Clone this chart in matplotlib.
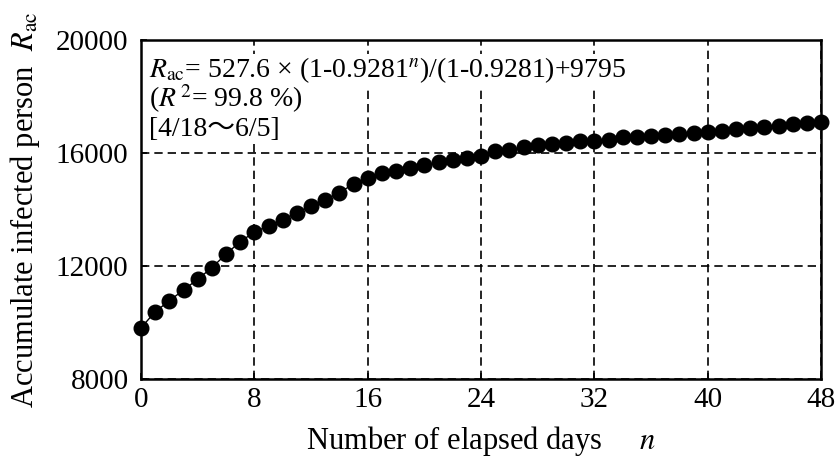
import numpy as np
import matplotlib
matplotlib.use("Agg")
import matplotlib.pyplot as plt

plt.rcParams['font.family'] = ['Liberation Serif', 'Noto Sans CJK JP', 'DejaVu Sans']
plt.rcParams['mathtext.fontset'] = 'stix'

# elapsed days and accumulated infected persons
days = np.arange(0, 49)
infected = [9810, 10380, 10770, 11150, 11530, 11940, 12420, 12860, 13200, 13420,
            13630, 13890, 14120, 14340, 14600, 14900, 15100, 15280, 15380, 15480,
            15580, 15670, 15750, 15810, 15890, 16070, 16110, 16220, 16270, 16320,
            16340, 16410, 16440, 16460, 16560, 16580, 16600, 16630, 16660, 16700,
            16730, 16780, 16840, 16870, 16930, 16970, 17020, 17050, 17090]

xticks = [0, 8, 16, 24, 32, 40, 48]
yticks = [8000, 12000, 16000, 20000]

fig = plt.figure(figsize=(8.35, 4.7), dpi=100)
ax = fig.add_axes([141/835, 1-379/470, 680/835, 339/470])

ax.plot(days, infected, color='black', lw=1.0, marker='o', ms=10.5,
        markerfacecolor='black', markeredgecolor='black', clip_on=False, zorder=3)

ax.set_xlim(0, 48)
ax.set_ylim(8000, 20000)
ax.set_xticks(xticks)
ax.set_yticks(yticks)
ax.tick_params(direction='in', length=4, width=1.2, labelsize=21, top=False, right=False)
ax.tick_params(axis='x', pad=6)
ax.tick_params(axis='y', pad=9)
for s in ax.spines.values():
    s.set_linewidth(1.8)

ax.grid(True, color='black', linestyle=(0, (5, 3)), linewidth=1.2)
ax.set_axisbelow(True)

ax.set_xlabel('Number of elapsed days     $n$', fontsize=22, labelpad=8)
ax.set_ylabel(r'Accumulate infected person  $R_{\rm ac}$', fontsize=22)
ax.yaxis.set_label_coords(-0.146, 0.5)

box = dict(facecolor='white', edgecolor='none', pad=0.5)
ax.text(0.012, 0.891, r'$R_{\rm ac}$= 527.6 × (1-0.9281$^{n}$)/(1-0.9281)+9795',
        transform=ax.transAxes, fontsize=20, va='baseline', ha='left', bbox=box)
ax.text(0.012, 0.802, r'($R^{\,2}$= 99.8 %)', transform=ax.transAxes,
        fontsize=20, va='baseline', ha='left', bbox=box)
ax.text(0.012, 0.718, '[4/18～6/5]', transform=ax.transAxes,
        fontsize=20, va='baseline', ha='left', bbox=box)

fig.savefig('out.png', dpi=100)
